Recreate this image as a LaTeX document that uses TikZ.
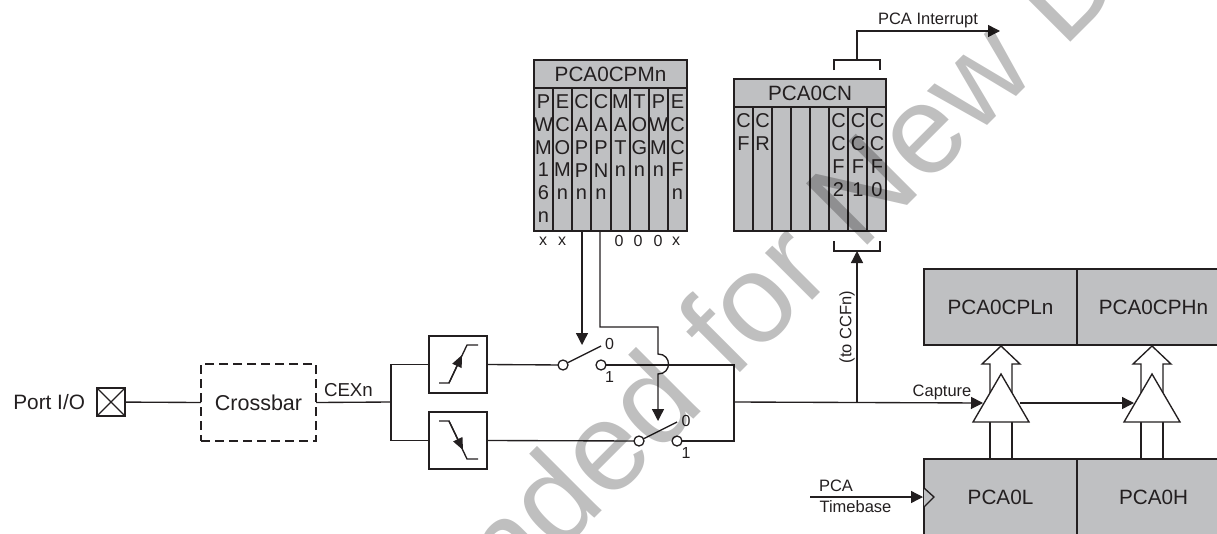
\documentclass[tikz,border=0pt]{standalone}
\usepackage{fontspec}
\setmainfont{Liberation Sans}
\definecolor{regfill}{HTML}{BFC0C2}
\definecolor{inkmain}{HTML}{231F20}
\usetikzlibrary{arrows.meta, positioning}

\begin{document}
\begin{tikzpicture}[
        x=1pt, y=-1pt,
        inkmain,
        line width=1.35pt,
        every node/.style={inner sep=0pt, outer sep=0pt, text=inkmain},
        arrow/.style={-{Triangle[length=12pt, width=12pt]}},
        reg/.style={
            rectangle,
            draw=inkmain,
            fill=regfill,
            line width=1.5pt,
            font=\fontsize{20.7}{24}\selectfont
        },
        bitcol/.style={
            anchor=north,
            align=center,
            font=\fontsize{20}{22.7}\selectfont
        },
        bitlabel/.style={font=\fontsize{16}{18}\selectfont},
        smalllabel/.style={font=\fontsize{16.5}{19}\selectfont},
        edgebox/.style={rectangle, draw=inkmain, line width=1.4pt, minimum width=58pt, minimum height=57pt},
        contact/.style={circle, draw=inkmain, fill=white, line width=1.3pt, minimum size=10pt}
    ]
    \useasboundingbox (0,0) rectangle (1217,533);

    % Port and crossbar
    \node[font=\fontsize{20.8}{24}\selectfont, anchor=east] (portlabel) at (85,402) {Port I/O};
    \node[rectangle, draw=inkmain, line width=1.5pt, minimum size=28pt] (port) at (111,402) {};
    \draw (port.north west) -- (port.south east) (port.north east) -- (port.south west);
    \node[rectangle, draw=inkmain, line width=1.7pt, dash pattern=on 9pt off 5pt, minimum width=115pt, minimum height=77pt, font=\fontsize{21.5}{24}\selectfont] (crossbar) at (258.5,402.5) {Crossbar};
    \draw (port) -- (crossbar.west);
    \coordinate (split) at (391,402);
    \draw (crossbar.east) -- (split);
    \node[font=\fontsize{18.7}{22}\selectfont, anchor=west] (cexlabel) at (324,390) {CEXn};

    % Edge detectors
    \node[edgebox] (rising) at (458,364.5) {};
    \node[edgebox] (falling) at (458,440.5) {};
    \draw (rising.west) -| (split) |- (falling.west);
    \draw (439,383) -- (449,383) -- (467,345) -- (478,345);
    \draw[-{Triangle[length=12pt, width=10pt]}] (449,383) -- (462,355);
    \draw (439,421) -- (449,421) -- (467,459) -- (478,459);
    \draw[-{Triangle[length=12pt, width=10pt]}] (449,421) -- (463,450);

    % Switches
    \node[contact] (swa) at (563,365) {};
    \node[contact] (swb) at (601,365) {};
    \node[contact] (swc) at (639,441) {};
    \node[contact] (swd) at (677,441) {};
    \coordinate (swatop) at (601,346);
    \coordinate (swctop) at (677,422);
    \draw (rising.east) -- (swa);
    \draw (falling.east) -- (swc);
    \draw (swa) -- (swatop);
    \draw (swc) -- (swctop);
    \node[bitlabel] (swazero) at (609.5,344) {0};
    \node[bitlabel] (swaone) at (609.5,377) {1};
    \node[bitlabel] (swczero) at (686,421) {0};
    \node[bitlabel] (swcone) at (686,453) {1};
    \coordinate (merge) at (734,402);
    \draw (swb) -| (merge) |- (swd);

    % Mode register
    \node[reg, minimum width=153pt, minimum height=28pt] (cpm) at (610.5,74) {PCA0CPMn};
    \node[reg, anchor=north, minimum width=153pt, minimum height=143pt] (cpmbits) at (cpm.south) {};
    \foreach \x/\txt [count=\i] in {543.5/P\\W\\M\\1\\6\\n, 562.5/E\\C\\O\\M\\n, 581.5/C\\A\\P\\P\\n, 601/C\\A\\P\\N\\n, 620.5/M\\A\\T\\n, 639.5/T\\O\\G\\n, 658.5/P\\W\\M\\n, 677.5/E\\C\\C\\F\\n} {
        \node[bitcol] (cpmcol\i) at (\x,95) {\txt};
    }
    \foreach \x in {553,572,591,611,630,649,668} {
        \draw (\x,88) -- (\x,231);
    }
    \foreach \x/\txt in {543/x, 562/x, 619/0, 638/0, 658/0, 676/x} {
        \node[bitlabel] (bit\x) at (\x,241) {\txt};
    }

    % Control register
    \node[reg, minimum width=152pt, minimum height=28pt] (cn) at (810,93) {PCA0CN};
    \node[reg, anchor=north, minimum width=152pt, minimum height=124pt] (cnbits) at (cn.south) {};
    \foreach \x/\txt [count=\i] in {743.5/C\\F, 762.5/C\\R, 838.5/C\\C\\F\\2, 858/C\\C\\F\\1, 877/C\\C\\F\\0} {
        \node[bitcol] (cncol\i) at (\x,114) {\txt};
    }
    \foreach \x in {753,772,791,810,829,848,867} {
        \draw (\x,107) -- (\x,231);
    }

    % Brackets and interrupt
    \draw (834,70) -- (834,60) -- (880,60) -- (880,70);
    \draw (834,241) -- (834,251) -- (880,251) -- (880,241);
    \coordinate (intend) at (1000,31);
    \coordinate (brtop) at (857,60);
    \coordinate (brbot) at (857,251);
    \draw[arrow] (brtop) |- (intend);
    \node[smalllabel, anchor=west] (intlabel) at (878,20) {PCA Interrupt};

    % Switch controls
    \coordinate (swaarrow) at (582,345);
    \coordinate (swcarrow) at (658,421);
    \draw[arrow] (582,231) -- (swaarrow);
    \draw[arrow] (600,231) -- (600,327) -- (658,327) -- (658,354)
        .. controls (672,354) and (672,374) .. (658,374) -- (swcarrow);

    % Capture registers
    \node[reg, minimum width=153pt, minimum height=76pt] (cpl) at (1000.5,307) {PCA0CPLn};
    \node[reg, minimum width=153pt, minimum height=76pt] (cph) at (1153.5,307) {PCA0CPHn};
    \node[reg, minimum width=153pt, minimum height=76pt] (cl) at (1000.5,497) {PCA0L};
    \node[reg, minimum width=153pt, minimum height=76pt] (ch) at (1153.5,497) {PCA0H};

    % Transfer gates
    \foreach \c/\n in {1001/a, 1152/b} {
        \draw[fill=white] (\c-11,422) -- (\c-11,364) -- (\c-19,364) -- (\c,346) -- (\c+19,364) -- (\c+11,364) -- (\c+11,422);
        \draw (\c-11,422) -- (\c-11,459) (\c+11,422) -- (\c+11,459);
        \draw[fill=white] (\c-28,422) -- (\c,374) -- (\c+28,422) -- cycle;
        \coordinate (gatein\n) at (\c-18,403);
        \coordinate (gateout\n) at (\c+19,403);
    }
    \coordinate (tap) at (857,403);
    \draw[arrow] (merge) -- (gateina);
    \draw[arrow] (gateouta) -- (gateinb);
    \draw[arrow] (tap) -- (brbot);
    \node[smalllabel] (caplabel) at (942,392) {Capture};
    \node[smalllabel, rotate=90] (ccflabel) at (847,327) {(to CCFn)};

    % Timebase
    \coordinate (tbstart) at (810,497);
    \coordinate (tbend) at (923,497);
    \draw[arrow] (tbstart) -- (tbend);
    \draw[fill=regfill] (924,488) -- (934,497) -- (924,507);
    \node[smalllabel] (tbpca) at (836,486) {PCA};
    \node[smalllabel] (tbname) at (855.5,507) {Timebase};

    % Diagonal stamp over everything
    \begin{scope}
        \clip (0,0) rectangle (1217,533);
        \node[anchor=base west, rotate=45, opacity=0.25, text=black, font=\fontsize{126}{126}\selectfont] (stamp) at (-60,1173) {Not Recommended for New Designs};
    \end{scope}
\end{tikzpicture}
\end{document}
